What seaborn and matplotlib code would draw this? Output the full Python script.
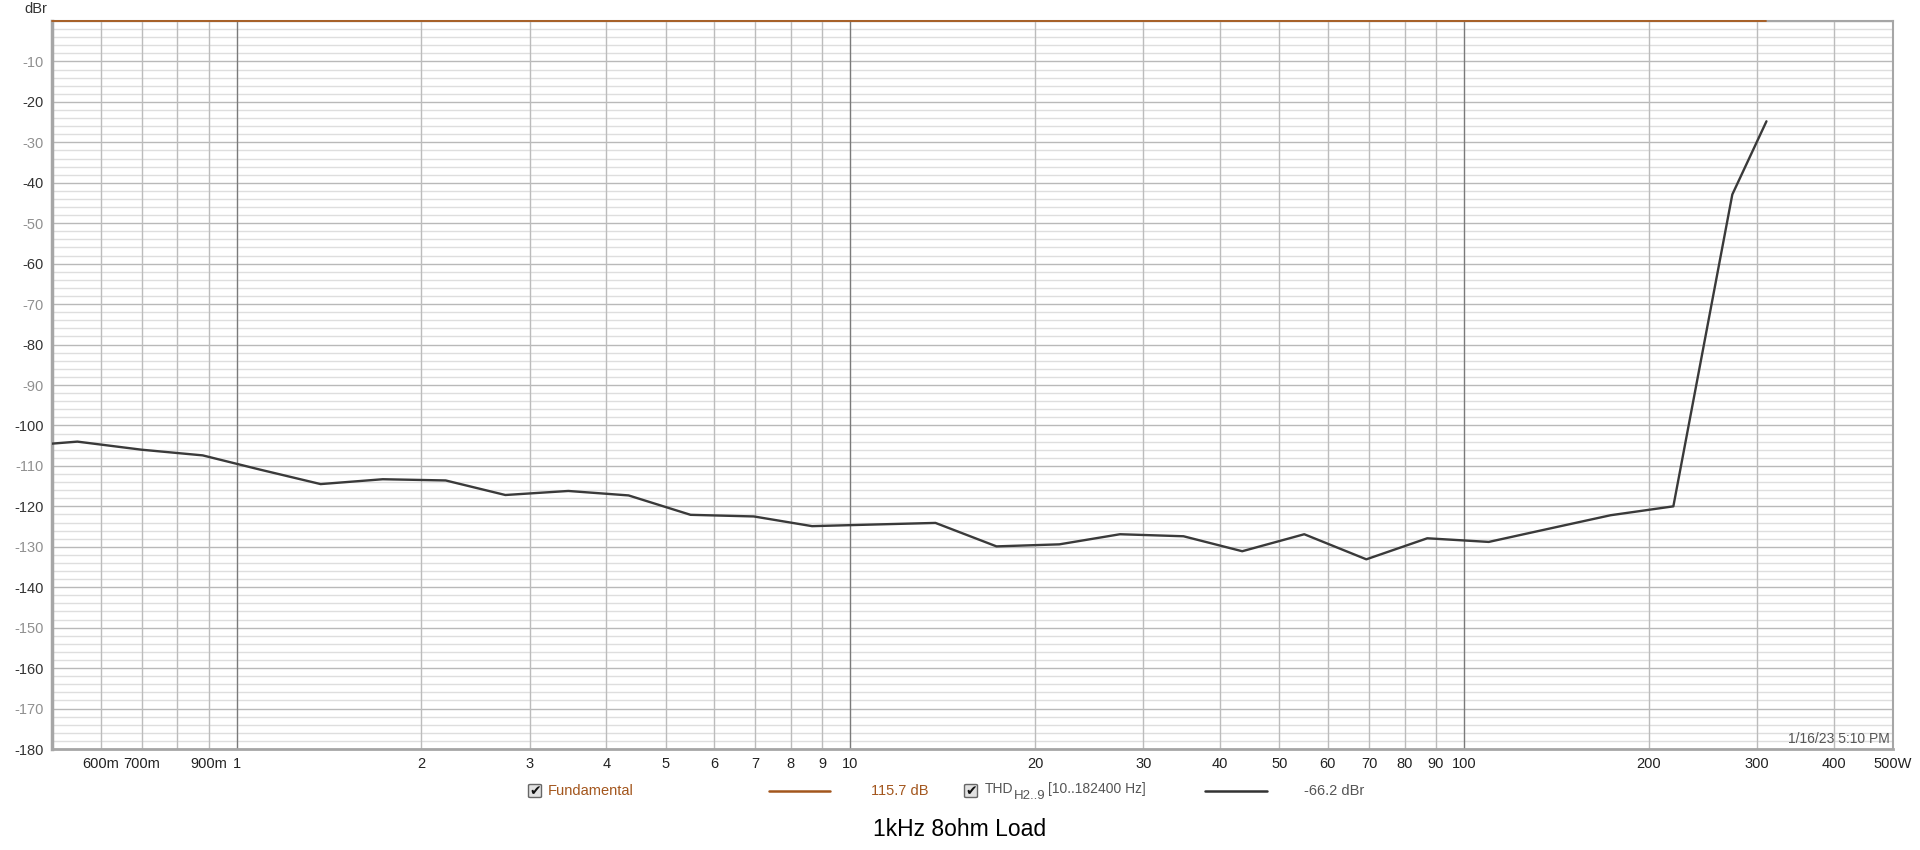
import pandas as pd
import seaborn as sns
import matplotlib.pyplot as plt
from matplotlib.patches import FancyBboxPatch

# THD vs output power, 1 kHz into 8 ohm
power_w = [0.5, 0.55, 0.70, 0.88, 1.09, 1.37, 1.73, 2.19, 2.74, 3.47, 4.35, 5.49,
           6.96, 8.66, 10.9, 13.76, 17.3, 21.9, 27.5, 34.9, 43.5, 54.9, 69.3, 87.1,
           109.7, 137.8, 173.3, 219.3, 273.6, 311.0]
thd_dbr = [-104.5, -104.0, -106.0, -107.4, -110.9, -114.5, -113.3, -113.6, -117.2, -116.2,
           -117.3, -122.1, -122.5, -124.9, -124.5, -124.1, -129.9, -129.4, -126.9, -127.4,
           -131.1, -126.9, -133.1, -127.9, -128.8, -125.5, -122.2, -120.0, -42.9, -24.8]
fund_power = [0.5, 311.0]
fund_dbr = [0.0, 0.0]

x_tick_vals = [0.6, 0.7, 0.9, 1, 2, 3, 4, 5, 6, 7, 8, 9, 10, 20, 30, 40, 50, 60, 70, 80, 90,
               100, 200, 300, 400, 500]
x_tick_labels = ["600m", "700m", "900m", "1", "2", "3", "4", "5", "6", "7", "8", "9", "10",
                 "20", "30", "40", "50", "60", "70", "80", "90", "100", "200", "300", "400", "500W"]

sns.set_style("white")
plt.rcParams['font.family'] = ['Liberation Sans', 'DejaVu Sans']

W, H = 1920, 850
fig = plt.figure(figsize=(19.2, 8.5), dpi=100)
ax = fig.add_axes([52 / W, 1 - 749 / H, (1893 - 52) / W, (749 - 21) / H])

ax.set_xscale("log")
ax.set_xlim(0.5, 500)
ax.set_ylim(-180, 0)

# grid
for v in range(-180, 1, 2):
    ax.axhline(v, color="#b9b9b9" if v % 10 == 0 else "#dedede", lw=1, zorder=0)
for dec in [0.1, 1, 10, 100]:
    for m in range(1, 10):
        v = dec * m
        if 0.5 < v < 500:
            ax.axvline(v, color="#7a7a7a" if m == 1 else "#bcbcbc", lw=1, zorder=0)

df_thd = pd.DataFrame({"power": power_w, "dbr": thd_dbr})
df_fund = pd.DataFrame({"power": fund_power, "dbr": fund_dbr})
sns.lineplot(data=df_thd, x="power", y="dbr", ax=ax, color="#3a3a3a", lw=1.7, zorder=3)
sns.lineplot(data=df_fund, x="power", y="dbr", ax=ax, color="#a85a1c", lw=1.3, zorder=4,
             clip_on=False)

ax.set_xticks(x_tick_vals)
ax.set_xticklabels(x_tick_labels, fontsize=10.5, color="#222222")
ax.xaxis.set_minor_locator(plt.NullLocator())
ax.set_yticks(list(range(-180, 0, 10)))
ax.set_yticklabels([str(v) for v in range(-180, 0, 10)], fontsize=10.5)
for lab, v in zip(ax.get_yticklabels(), range(-180, 0, 10)):
    lab.set_color("#333333" if v % 20 == 0 else "#909090")
ax.tick_params(axis="both", length=0, pad=6)
ax.set_xlabel("")
ax.set_ylabel("")
for s in ax.spines.values():
    s.set_color("#a6a6a6")
    s.set_linewidth(1.5)
ax.spines["left"].set_linewidth(2.5)
ax.spines["bottom"].set_linewidth(2)

fig.text(36 / W, 1 - 9 / H, "dBr", fontsize=10.5, color="#333333", ha="center", va="center")
ax.text(0.9985, 0.004, "1/16/23 5:10 PM", transform=ax.transAxes, ha="right", va="bottom",
        fontsize=10, color="#555555")


def fx(px):
    return px / W


def fy(py):
    return 1 - py / H


def checkbox(cx, cy):
    box = FancyBboxPatch((fx(cx - 6.5), fy(cy + 6.5)), 13 / W, 13 / H,
                         boxstyle="round,pad=0,rounding_size=0.001",
                         transform=fig.transFigure, facecolor="#e2e2e2",
                         edgecolor="#666666", lw=1)
    fig.patches.append(box)
    fig.text(fx(cx), fy(cy), "\u2714", family="DejaVu Sans", fontsize=10,
             color="#111111", ha="center", va="center")


ly = 791
checkbox(535, ly)
fig.text(fx(548), fy(ly), "Fundamental", fontsize=10.5, color="#a3561d", ha="left", va="center")
fig.lines.append(plt.Line2D([fx(769), fx(830)], [fy(ly), fy(ly)], transform=fig.transFigure,
                            color="#a3561d", lw=1.8))
fig.text(fx(871), fy(ly), "115.7 dB", fontsize=10.5, color="#a3561d", ha="left", va="center")

checkbox(971, ly)
fig.text(fx(985), fy(ly - 2), "THD", fontsize=10, color="#555555", ha="left", va="center")
fig.text(fx(1014), fy(ly + 5), "H2..9", fontsize=9.5, color="#555555", ha="left", va="center")
fig.text(fx(1048), fy(ly - 2), "[10..182400 Hz]", fontsize=10, color="#555555", ha="left",
         va="center")
fig.lines.append(plt.Line2D([fx(1205), fx(1267)], [fy(ly), fy(ly)], transform=fig.transFigure,
                            color="#333333", lw=1.8))
fig.text(fx(1304), fy(ly), "-66.2 dBr", fontsize=10.5, color="#555555", ha="left", va="center")

fig.text(fx(960), fy(830), "1kHz 8ohm Load", fontsize=16.5, color="#000000", ha="center",
         va="center")

fig.savefig("out.png", dpi=100)
